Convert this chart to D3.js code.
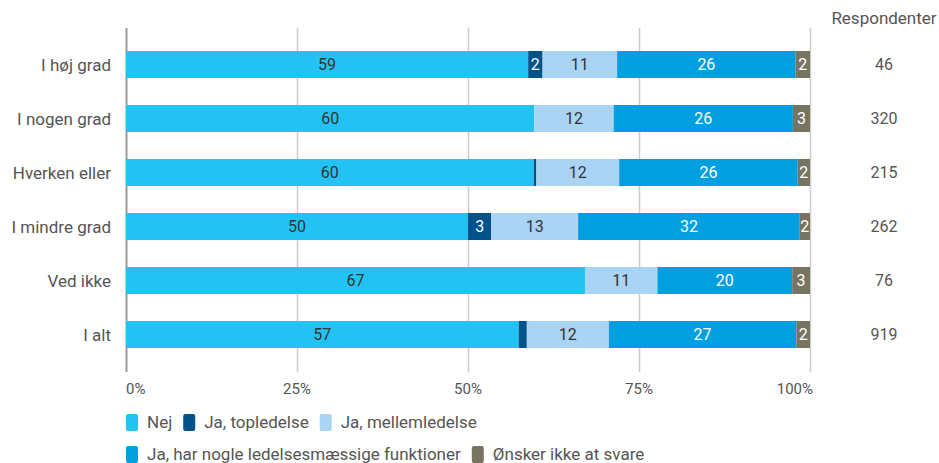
<!DOCTYPE html>
<html><head><meta charset="utf-8">
<script src="https://cdn.jsdelivr.net/npm/d3@7"></script>
<style>body{margin:0;background:#fff;font-family:Roboto,sans-serif}</style>
</head><body><svg id="c" width="939" height="463"></svg>
<script>
const categories = ["I høj grad","I nogen grad","Hverken eller","I mindre grad","Ved ikke","I alt"];
const seriesNames = ["Nej","Ja, topledelse","Ja, mellemledelse","Ja, har nogle ledelsesmæssige funktioner","Ønsker ikke at svare"];
const nej       = [58.8, 59.7, 59.6, 50.0, 67.1, 57.4];
const top_      = [2.1, 0.0, 0.4, 3.4, 0.0, 1.2];
const mellem    = [10.9, 11.6, 12.1, 12.7, 10.6, 12.0];
const nogle     = [26.1, 26.2, 26.1, 32.4, 19.7, 27.4];
const onsker    = [2.1, 2.5, 1.8, 1.5, 2.6, 2.0];
const respondenter = [46, 320, 215, 262, 76, 919];
const tickValues = [0, 25, 50, 75, 100];
const colors = ["#22c3f3","#00528a","#aad4f3","#009fe0","#777462"];
const labelColors = ["#333","#fff","#333","#fff","#fff"];

const seriesVals = [nej, top_, mellem, nogle, onsker];
const rows = categories.map((c,i)=>{const o={cat:c}; seriesNames.forEach((s,j)=>o[s]=seriesVals[j][i]); return o;});
const stack = d3.stack().keys(seriesNames)(rows);

const svg = d3.select("#c");
const x = d3.scaleLinear().domain([0,100]).range([126,810]);
const y = d3.scaleBand().domain(categories).range([37.5,361.5]).paddingInner(0.5).paddingOuter(0.25);

// grid
svg.append("g").selectAll("line").data(tickValues).join("line")
  .attr("x1",d=>x(d)+0.5).attr("x2",d=>x(d)+0.5).attr("y1",28).attr("y2",372)
  .attr("stroke",d=>d===0?"#999":"#ccc").attr("stroke-width",d=>d===0?2:1.5);

// bars
const g = svg.append("g");
stack.forEach((s,j)=>{
  g.append("g").selectAll("rect").data(s).join("rect")
    .attr("x",d=>x(d[0])).attr("width",d=>x(d[1])-x(d[0]))
    .attr("y",d=>y(d.data.cat)).attr("height",y.bandwidth())
    .attr("fill",colors[j]);
  g.append("g").selectAll("text").data(s.filter(d=>d[1]-d[0]>=1.5)).join("text")
    .attr("x",d=>(x(d[0])+x(d[1]))/2).attr("y",d=>y(d.data.cat)+y.bandwidth()/2)
    .attr("dy","0.36em").attr("text-anchor","middle")
    .attr("font-size",16).attr("fill",labelColors[j])
    .text(d=>Math.round(d[1]-d[0]));
});

// category axis labels
svg.append("g").selectAll("text").data(categories).join("text")
  .attr("x",111).attr("y",d=>y(d)+y.bandwidth()/2).attr("dy","0.36em")
  .attr("text-anchor","end").attr("font-size",17).attr("fill","#555").text(d=>d);

// x tick labels
svg.append("g").selectAll("text").data(tickValues).join("text")
  .attr("x",d=>x(d)).attr("y",389).attr("dy","0.36em")
  .attr("text-anchor",d=>d===0?"start":(d===100?"end":"middle"))
  .attr("dx",d=>d===0?0:(d===100?3:0))
  .attr("font-size",15).attr("fill","#555").text(d=>d+"%");

// respondenter
svg.append("text").attr("x",884).attr("y",18).attr("dy","0.36em").attr("text-anchor","middle")
  .attr("font-size",17).attr("fill","#555").text("Respondenter");
svg.append("g").selectAll("text").data(categories).join("text")
  .attr("x",884).attr("y",(d)=>y(d)+y.bandwidth()/2).attr("dy","0.36em").attr("text-anchor","middle")
  .attr("font-size",16).attr("fill","#555").text((d,i)=>respondenter[i]);

// legend
const legendRows = [[0,1,2],[3,4]];
legendRows.forEach((r,ri)=>{
  let cx = 126;
  const ly = 422 + ri*32;
  r.forEach(j=>{
    svg.append("rect").attr("x",cx).attr("y",ly-8).attr("width",12).attr("height",17).attr("rx",2).attr("fill",colors[j]);
    const t = svg.append("text").attr("x",cx+21).attr("y",ly).attr("dy","0.36em")
      .attr("font-size",17).attr("fill","#555").text(seriesNames[j]);
    cx += 21 + t.node().getComputedTextLength() + 11;
  });
});
</script></body></html>
